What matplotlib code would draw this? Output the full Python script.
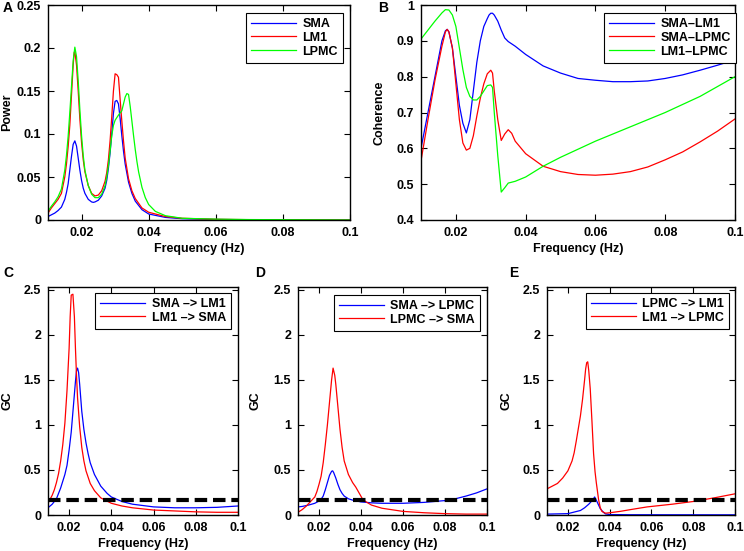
import matplotlib

matplotlib.use("Agg")

import matplotlib.pyplot as plt

plt.rcParams["font.family"] = ["Liberation Sans", "DejaVu Sans"]
plt.rcParams["font.weight"] = "bold"
plt.rcParams["font.size"] = 9

# ---- Panel A: power spectra ----
pow_f_sma = [0.010, 0.011, 0.012, 0.013, 0.014, 0.015, 0.0155, 0.016, 0.0165, 0.017,
             0.0175, 0.018, 0.0185, 0.019, 0.0195, 0.020, 0.0205, 0.021, 0.022, 0.023,
             0.0235, 0.024, 0.025, 0.026, 0.027, 0.0275, 0.028, 0.0285, 0.029, 0.0295,
             0.030, 0.0305, 0.031, 0.0315, 0.032, 0.0325, 0.033, 0.034, 0.035, 0.036,
             0.038, 0.040, 0.045, 0.050, 0.060, 0.070, 0.100]
pow_sma = [0.004, 0.006, 0.008, 0.011, 0.015, 0.024, 0.032, 0.042, 0.058, 0.074,
           0.088, 0.092, 0.086, 0.072, 0.058, 0.046, 0.037, 0.031, 0.024, 0.021,
           0.0205, 0.021, 0.023, 0.028, 0.037, 0.046, 0.060, 0.078, 0.100, 0.124,
           0.138, 0.139, 0.135, 0.118, 0.098, 0.080, 0.065, 0.044, 0.031, 0.022,
           0.012, 0.007, 0.003, 0.0015, 0.0006, 0.0003, 0.0]

pow_f_lm1 = [0.010, 0.011, 0.012, 0.013, 0.014, 0.015, 0.0155, 0.016, 0.0165, 0.017,
             0.0175, 0.0178, 0.018, 0.0185, 0.019, 0.0195, 0.020, 0.0205, 0.021, 0.022,
             0.023, 0.024, 0.025, 0.026, 0.027, 0.0275, 0.028, 0.0285, 0.029, 0.0295,
             0.030, 0.0305, 0.031, 0.0315, 0.032, 0.0325, 0.033, 0.034, 0.035, 0.036,
             0.038, 0.040, 0.045, 0.050, 0.060, 0.070, 0.100]
pow_lm1 = [0.008, 0.014, 0.019, 0.024, 0.031, 0.050, 0.065, 0.085, 0.110, 0.145,
           0.180, 0.195, 0.196, 0.180, 0.150, 0.117, 0.090, 0.070, 0.056, 0.040,
           0.031, 0.028, 0.029, 0.034, 0.045, 0.055, 0.070, 0.092, 0.120, 0.150,
           0.170, 0.169, 0.166, 0.140, 0.115, 0.092, 0.072, 0.048, 0.034, 0.025,
           0.014, 0.009, 0.004, 0.002, 0.0008, 0.0004, 0.0]

pow_f_lpmc = [0.010, 0.011, 0.012, 0.013, 0.014, 0.015, 0.0155, 0.016, 0.0165, 0.017,
              0.0175, 0.018, 0.0185, 0.019, 0.0195, 0.020, 0.0205, 0.021, 0.022, 0.023,
              0.024, 0.025, 0.026, 0.027, 0.0275, 0.028, 0.0285, 0.029, 0.0295, 0.030,
              0.031, 0.032, 0.0325, 0.033, 0.0335, 0.034, 0.0345, 0.035, 0.0355, 0.036,
              0.0365, 0.037, 0.038, 0.039, 0.040, 0.042, 0.045, 0.050, 0.060, 0.070,
              0.100]
pow_lpmc = [0.010, 0.016, 0.021, 0.027, 0.036, 0.058, 0.075, 0.097, 0.125, 0.155,
            0.185, 0.201, 0.190, 0.162, 0.128, 0.098, 0.075, 0.058, 0.040, 0.030,
            0.026, 0.026, 0.030, 0.040, 0.050, 0.063, 0.080, 0.098, 0.110, 0.116,
            0.122, 0.127, 0.135, 0.143, 0.147, 0.146, 0.132, 0.115, 0.098, 0.082,
            0.068, 0.056, 0.038, 0.026, 0.018, 0.010, 0.005, 0.002, 0.001, 0.0005,
            0.0]

# ---- Panel B: coherence ----
coh_f_a = [0.010, 0.012, 0.014, 0.016, 0.017, 0.0175, 0.018, 0.019, 0.020, 0.021,
           0.022, 0.023, 0.024, 0.025, 0.026, 0.027, 0.028, 0.029, 0.0295, 0.030,
           0.0305, 0.031, 0.032, 0.033, 0.034, 0.035, 0.037, 0.040, 0.045, 0.050,
           0.055, 0.060, 0.065, 0.070, 0.075, 0.080, 0.085, 0.090, 0.095, 0.100]
coh_sma_lm1 = [0.600, 0.700, 0.800, 0.900, 0.928, 0.932, 0.925, 0.880, 0.800, 0.720,
               0.670, 0.643, 0.680, 0.760, 0.840, 0.900, 0.940, 0.962, 0.972, 0.977,
               0.977, 0.972, 0.955, 0.930, 0.908, 0.898, 0.885, 0.862, 0.830, 0.810,
               0.795, 0.790, 0.786, 0.786, 0.788, 0.795, 0.805, 0.818, 0.832, 0.847]

coh_f_b = [0.010, 0.012, 0.014, 0.016, 0.017, 0.0175, 0.018, 0.019, 0.020, 0.021,
           0.022, 0.023, 0.024, 0.025, 0.026, 0.027, 0.028, 0.029, 0.030, 0.0305,
           0.031, 0.032, 0.033, 0.034, 0.035, 0.036, 0.037, 0.040, 0.045, 0.050,
           0.055, 0.060, 0.065, 0.070, 0.075, 0.080, 0.085, 0.090, 0.095, 0.100]
coh_sma_lpmc = [0.565, 0.680, 0.790, 0.885, 0.925, 0.932, 0.925, 0.880, 0.780, 0.680,
                0.615, 0.595, 0.600, 0.635, 0.690, 0.740, 0.780, 0.808, 0.818, 0.810,
                0.760, 0.680, 0.622, 0.640, 0.652, 0.642, 0.620, 0.585, 0.550, 0.535,
                0.527, 0.525, 0.528, 0.535, 0.548, 0.568, 0.590, 0.618, 0.648, 0.682]

coh_f_c = [0.010, 0.012, 0.014, 0.016, 0.017, 0.018, 0.019, 0.020, 0.021, 0.022,
           0.023, 0.024, 0.025, 0.026, 0.027, 0.028, 0.029, 0.030, 0.0305, 0.031,
           0.032, 0.033, 0.034, 0.035, 0.037, 0.040, 0.045, 0.050, 0.060, 0.070,
           0.080, 0.090, 0.100]
coh_lm1_lpmc = [0.905, 0.930, 0.955, 0.978, 0.987, 0.986, 0.972, 0.940, 0.880, 0.820,
                0.770, 0.745, 0.735, 0.735, 0.745, 0.760, 0.775, 0.777, 0.770, 0.700,
                0.580, 0.478, 0.490, 0.503, 0.508, 0.520, 0.550, 0.575, 0.620, 0.660,
                0.700, 0.745, 0.800]

# ---- Panel C: SMA <-> LM1 ----
gc_c_f_blue = [0.010, 0.012, 0.014, 0.016, 0.018, 0.019, 0.020, 0.021, 0.022, 0.023,
               0.0235, 0.024, 0.0245, 0.025, 0.026, 0.027, 0.028, 0.029, 0.030, 0.032,
               0.035, 0.038, 0.040, 0.045, 0.050, 0.060, 0.070, 0.080, 0.090, 0.100]
gc_sma_lm1 = [0.08, 0.12, 0.18, 0.30, 0.45, 0.55, 0.72, 0.92, 1.20, 1.48,
              1.60, 1.63, 1.58, 1.45, 1.15, 0.95, 0.80, 0.68, 0.58, 0.45,
              0.32, 0.24, 0.20, 0.15, 0.12, 0.09, 0.08, 0.08, 0.085, 0.10]
gc_c_f_red = [0.010, 0.012, 0.013, 0.014, 0.015, 0.016, 0.017, 0.018, 0.019, 0.020,
              0.0205, 0.021, 0.0218, 0.0225, 0.023, 0.0235, 0.024, 0.025, 0.026, 0.027,
              0.028, 0.030, 0.032, 0.035, 0.040, 0.045, 0.050, 0.060, 0.070, 0.080,
              0.090, 0.100]
gc_lm1_sma = [0.13, 0.22, 0.28, 0.36, 0.46, 0.60, 0.78, 1.02, 1.38, 1.85,
              2.20, 2.44, 2.45, 2.20, 1.85, 1.55, 1.30, 0.98, 0.75, 0.60,
              0.49, 0.35, 0.27, 0.19, 0.13, 0.10, 0.08, 0.055, 0.045, 0.035,
              0.03, 0.03]

# ---- Panel D: SMA <-> LPMC ----
gc_d_f_blue = [0.010, 0.012, 0.015, 0.018, 0.020, 0.021, 0.022, 0.023, 0.024, 0.025,
               0.026, 0.0265, 0.027, 0.028, 0.029, 0.030, 0.031, 0.032, 0.034, 0.036,
               0.040, 0.045, 0.050, 0.060, 0.070, 0.080, 0.085, 0.090, 0.095, 0.100]
gc_sma_lpmc = [0.09, 0.095, 0.11, 0.13, 0.155, 0.175, 0.21, 0.28, 0.36, 0.44,
               0.485, 0.49, 0.47, 0.41, 0.34, 0.28, 0.24, 0.21, 0.18, 0.165,
               0.145, 0.135, 0.13, 0.13, 0.14, 0.16, 0.18, 0.21, 0.245, 0.29]
gc_d_f_red = [0.010, 0.012, 0.014, 0.016, 0.018, 0.019, 0.020, 0.021, 0.022, 0.023,
              0.024, 0.025, 0.026, 0.0267, 0.0275, 0.028, 0.029, 0.030, 0.031, 0.032,
              0.034, 0.036, 0.0375, 0.041, 0.045, 0.050, 0.060, 0.070, 0.080, 0.090,
              0.100]
gc_lpmc_sma = [0.03, 0.06, 0.10, 0.15, 0.20, 0.26, 0.34, 0.43, 0.58, 0.78,
               1.00, 1.25, 1.50, 1.63, 1.55, 1.45, 1.20, 0.95, 0.75, 0.60,
               0.45, 0.36, 0.31, 0.166, 0.11, 0.075, 0.04, 0.025, 0.015, 0.01,
               0.01]

# ---- Panel E: LPMC <-> LM1 ----
gc_e_f_blue = [0.010, 0.020, 0.026, 0.028, 0.030, 0.032, 0.0328, 0.0339, 0.0355, 0.037,
               0.038, 0.040, 0.050, 0.100]
gc_lpmc_lm1 = [0.01, 0.015, 0.05, 0.08, 0.12, 0.17, 0.20, 0.15, 0.07, 0.03,
               0.012, 0.005, 0.003, 0.002]
gc_e_f_red = [0.010, 0.0125, 0.015, 0.0175, 0.020, 0.022, 0.023, 0.024, 0.025, 0.026,
              0.027, 0.028, 0.0285, 0.029, 0.0295, 0.030, 0.0307, 0.0315, 0.0323, 0.033,
              0.0336, 0.0347, 0.0355, 0.0363, 0.038, 0.040, 0.045, 0.050, 0.058, 0.070,
              0.080, 0.090, 0.100]
gc_lm1_lpmc = [0.29, 0.32, 0.35, 0.41, 0.49, 0.60, 0.69, 0.82, 0.96, 1.10,
               1.28, 1.50, 1.62, 1.69, 1.70, 1.60, 1.40, 1.05, 0.68, 0.48,
               0.36, 0.17, 0.08, 0.04, 0.02, 0.025, 0.04, 0.06, 0.09, 0.12,
               0.15, 0.19, 0.235]

threshold = 0.17

BLUE = (0, 0, 1)
RED = (1, 0, 0)
GREEN = (0, 1, 0)

W, H = 744, 551
fig = plt.figure(figsize=(W / 100, H / 100), dpi=100)


def add_ax(left, top, right, bottom):
    return fig.add_axes([left / W, 1 - bottom / H, (right - left) / W, (bottom - top) / H])


def style(ax, ylim, yticks, ylabel, label_x):
    ax.set_xlim(0.01, 0.1)
    ax.set_ylim(*ylim)
    ax.set_xticks([0.02, 0.04, 0.06, 0.08, 0.1])
    ax.set_xticklabels(["0.02", "0.04", "0.06", "0.08", "0.1"])
    ax.set_yticks(yticks)
    ax.set_yticklabels([f"{t:g}" for t in yticks])
    ax.tick_params(direction="in", top=True, right=True, length=4, width=0.8, pad=5)
    for sp in ax.spines.values():
        sp.set_linewidth(1.0)
    ax.set_xlabel("Frequency (Hz)", fontweight="bold", labelpad=3)
    ax.set_ylabel(ylabel, fontweight="bold")
    ax.yaxis.set_label_coords(label_x, 0.5)


def legend(ax, anchor):
    leg = ax.legend(loc="upper right", bbox_to_anchor=anchor, borderaxespad=0,
                    handlelength=3.6, fancybox=False, framealpha=1,
                    edgecolor="black", borderpad=0.4, labelspacing=0.15,
                    handletextpad=0.5, prop={"weight": "bold", "size": 9})
    leg.get_frame().set_linewidth(0.8)
    return leg


# A
ax = add_ax(48, 5, 350, 220)
ax.plot(pow_f_sma, pow_sma, color=BLUE, lw=0.9, label="SMA")
ax.plot(pow_f_lm1, pow_lm1, color=RED, lw=0.9, label="LM1")
ax.plot(pow_f_lpmc, pow_lpmc, color=GREEN, lw=0.9, label="LPMC")
style(ax, (0, 0.25), [0, 0.05, 0.1, 0.15, 0.2, 0.25], "Power", -0.115)
legend(ax, (0.977, 0.963))
fig.text(3 / W, 1 - 8 / H, "A", fontweight="bold", fontsize=10, va="center")

# B
ax = add_ax(421, 5, 735, 220)
ax.plot(coh_f_a, coh_sma_lm1, color=BLUE, lw=0.9, label="SMA\u2013LM1")
ax.plot(coh_f_b, coh_sma_lpmc, color=RED, lw=0.9, label="SMA\u2013LPMC")
ax.plot(coh_f_c, coh_lm1_lpmc, color=GREEN, lw=0.9, label="LM1\u2013LPMC")
style(ax, (0.4, 1.0), [0.4, 0.5, 0.6, 0.7, 0.8, 0.9, 1.0], "Coherence", -0.113)
legend(ax, (1.003, 0.963))
fig.text(378 / W, 1 - 8 / H, "B", fontweight="bold", fontsize=10, va="center")

gc_ticks = [0, 0.5, 1, 1.5, 2, 2.5]
panels = [
    (48, 238, "C", 3, -0.182, (0.963, 0.974), gc_c_f_blue, gc_sma_lm1, "SMA \u2013> LM1",
     gc_c_f_red, gc_lm1_sma, "LM1 \u2013> SMA"),
    (298, 487, "D", 255, -0.193, (0.963, 0.965), gc_d_f_blue, gc_sma_lpmc, "SMA \u2013> LPMC",
     gc_d_f_red, gc_lpmc_sma, "LPMC \u2013> SMA"),
    (547, 735, "E", 509, -0.186, (0.968, 0.974), gc_e_f_blue, gc_lpmc_lm1, "LPMC \u2013> LM1",
     gc_e_f_red, gc_lm1_lpmc, "LM1 \u2013> LPMC"),
]
for left, right, tag, tag_x, lab_x, anchor, fb, yb, lb, fr, yr, lr in panels:
    ax = add_ax(left, 287, right, 515)
    ax.plot(fb, yb, color=BLUE, lw=0.9, label=lb)
    ax.plot(fr, yr, color=RED, lw=0.9, label=lr)
    ax.axhline(threshold, color="black", lw=3, dashes=(3, 1.4))
    style(ax, (0, 2.53), gc_ticks, "GC", lab_x)
    legend(ax, anchor)
    fig.text(tag_x / W, 1 - 273 / H, tag, fontweight="bold", fontsize=10, va="center")

fig.savefig("out.png", dpi=100)
